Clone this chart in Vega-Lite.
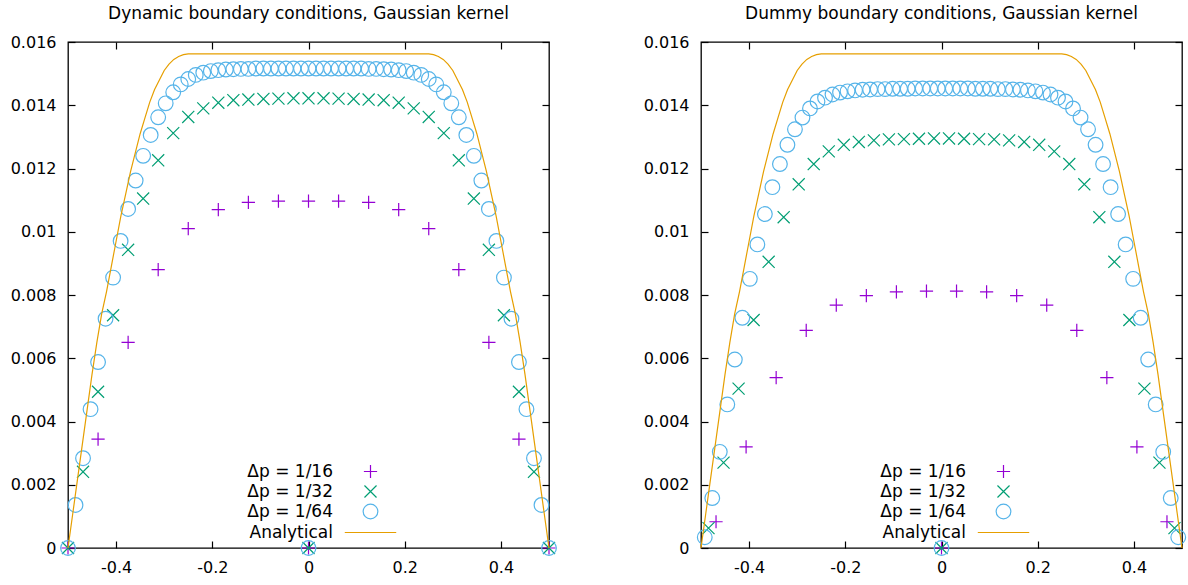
{
"$schema": "https://vega.github.io/schema/vega-lite/v6.json",
"padding": {"left": 9, "top": 4, "right": 2, "bottom": 2},
"spacing": 82,
"config": {
  "font": "DejaVu Sans",
  "view": {"stroke": "black", "strokeWidth": 1.3},
  "axis": {"domain": false, "grid": false, "tickColor": "black", "tickWidth": 1.2, "labelColor": "black", "labelFontSize": 16, "labelFont": "DejaVu Sans", "minExtent": 0},
  "title": {"fontSize": 17, "fontWeight": "normal", "color": "black", "font": "DejaVu Sans"},
  "legend": {"orient": "none", "legendX": 294, "legendY": 421, "title": null, "labelAlign": "right", "labelOffset": -46, "labelFontSize": 17, "labelFont": "DejaVu Sans", "labelColor": "black", "symbolSize": 216, "symbolStrokeWidth": 1.2, "rowPadding": 1, "padding": 0}
},
"datasets": {
  "analytic": [
    {"x": -0.5, "y": 0}, {"x": -0.49, "y": 0.0011}, {"x": -0.48, "y": 0.0022}, {"x": -0.47, "y": 0.0033}, {"x": -0.46, "y": 0.0044}, {"x": -0.45, "y": 0.0055}, {"x": -0.44, "y": 0.0065}, {"x": -0.43, "y": 0.0074}, {"x": -0.42, "y": 0.0081}, {"x": -0.41, "y": 0.0089}, {"x": -0.4, "y": 0.0097}, {"x": -0.39, "y": 0.0105}, {"x": -0.38, "y": 0.0112}, {"x": -0.37, "y": 0.0119}, {"x": -0.36, "y": 0.0125}, {"x": -0.35, "y": 0.0131}, {"x": -0.34, "y": 0.0136}, {"x": -0.33, "y": 0.0141}, {"x": -0.32, "y": 0.0145}, {"x": -0.31, "y": 0.0148}, {"x": -0.3, "y": 0.0151}, {"x": -0.29, "y": 0.0153}, {"x": -0.28, "y": 0.01545}, {"x": -0.27, "y": 0.01554}, {"x": -0.26, "y": 0.0156}, {"x": -0.25, "y": 0.015625},
    {"x": 0.25, "y": 0.015625}, {"x": 0.26, "y": 0.0156}, {"x": 0.27, "y": 0.01554}, {"x": 0.28, "y": 0.01545}, {"x": 0.29, "y": 0.0153}, {"x": 0.3, "y": 0.0151}, {"x": 0.31, "y": 0.0148}, {"x": 0.32, "y": 0.0145}, {"x": 0.33, "y": 0.0141}, {"x": 0.34, "y": 0.0136}, {"x": 0.35, "y": 0.0131}, {"x": 0.36, "y": 0.0125}, {"x": 0.37, "y": 0.0119}, {"x": 0.38, "y": 0.0112}, {"x": 0.39, "y": 0.0105}, {"x": 0.4, "y": 0.0097}, {"x": 0.41, "y": 0.0089}, {"x": 0.42, "y": 0.0081}, {"x": 0.43, "y": 0.0074}, {"x": 0.44, "y": 0.0065}, {"x": 0.45, "y": 0.0055}, {"x": 0.46, "y": 0.0044}, {"x": 0.47, "y": 0.0033}, {"x": 0.48, "y": 0.0022}, {"x": 0.49, "y": 0.0011}, {"x": 0.5, "y": 0}
  ],
  "dyn": [
    {"s": "Δp = 1/16", "x": -0.5, "y": 0}, {"s": "Δp = 1/16", "x": -0.4375, "y": 0.00344}, {"s": "Δp = 1/16", "x": -0.375, "y": 0.0065}, {"s": "Δp = 1/16", "x": -0.3125, "y": 0.0088}, {"s": "Δp = 1/16", "x": -0.25, "y": 0.0101}, {"s": "Δp = 1/16", "x": -0.1875, "y": 0.0107}, {"s": "Δp = 1/16", "x": -0.125, "y": 0.01093}, {"s": "Δp = 1/16", "x": -0.0625, "y": 0.01097}, {"s": "Δp = 1/16", "x": 0, "y": 0.01097}, {"s": "Δp = 1/16", "x": 0.0625, "y": 0.01097}, {"s": "Δp = 1/16", "x": 0.125, "y": 0.01093}, {"s": "Δp = 1/16", "x": 0.1875, "y": 0.0107}, {"s": "Δp = 1/16", "x": 0.25, "y": 0.0101}, {"s": "Δp = 1/16", "x": 0.3125, "y": 0.0088}, {"s": "Δp = 1/16", "x": 0.375, "y": 0.0065}, {"s": "Δp = 1/16", "x": 0.4375, "y": 0.00344}, {"s": "Δp = 1/16", "x": 0.5, "y": 0}, {"s": "Δp = 1/16", "x": 0, "y": 0},
    {"s": "Δp = 1/32", "x": -0.5, "y": 0}, {"s": "Δp = 1/32", "x": -0.46875, "y": 0.00241}, {"s": "Δp = 1/32", "x": -0.4375, "y": 0.00494}, {"s": "Δp = 1/32", "x": -0.40625, "y": 0.00736}, {"s": "Δp = 1/32", "x": -0.375, "y": 0.00943}, {"s": "Δp = 1/32", "x": -0.34375, "y": 0.01105}, {"s": "Δp = 1/32", "x": -0.3125, "y": 0.01226}, {"s": "Δp = 1/32", "x": -0.28125, "y": 0.01312}, {"s": "Δp = 1/32", "x": -0.25, "y": 0.01363}, {"s": "Δp = 1/32", "x": -0.21875, "y": 0.0139}, {"s": "Δp = 1/32", "x": -0.1875, "y": 0.01408}, {"s": "Δp = 1/32", "x": -0.15625, "y": 0.01416}, {"s": "Δp = 1/32", "x": -0.125, "y": 0.01418}, {"s": "Δp = 1/32", "x": -0.09375, "y": 0.0142}, {"s": "Δp = 1/32", "x": -0.0625, "y": 0.01421}, {"s": "Δp = 1/32", "x": -0.03125, "y": 0.01422}, {"s": "Δp = 1/32", "x": 0, "y": 0.01422}, {"s": "Δp = 1/32", "x": 0.03125, "y": 0.01422}, {"s": "Δp = 1/32", "x": 0.0625, "y": 0.01421}, {"s": "Δp = 1/32", "x": 0.09375, "y": 0.0142}, {"s": "Δp = 1/32", "x": 0.125, "y": 0.01418}, {"s": "Δp = 1/32", "x": 0.15625, "y": 0.01416}, {"s": "Δp = 1/32", "x": 0.1875, "y": 0.01408}, {"s": "Δp = 1/32", "x": 0.21875, "y": 0.0139}, {"s": "Δp = 1/32", "x": 0.25, "y": 0.01363}, {"s": "Δp = 1/32", "x": 0.28125, "y": 0.01312}, {"s": "Δp = 1/32", "x": 0.3125, "y": 0.01226}, {"s": "Δp = 1/32", "x": 0.34375, "y": 0.01105}, {"s": "Δp = 1/32", "x": 0.375, "y": 0.00943}, {"s": "Δp = 1/32", "x": 0.40625, "y": 0.00736}, {"s": "Δp = 1/32", "x": 0.4375, "y": 0.00494}, {"s": "Δp = 1/32", "x": 0.46875, "y": 0.00241}, {"s": "Δp = 1/32", "x": 0.5, "y": 0}, {"s": "Δp = 1/32", "x": 0, "y": 0},
    {"s": "Δp = 1/64", "x": -0.5, "y": 0}, {"s": "Δp = 1/64", "x": -0.484375, "y": 0.00136}, {"s": "Δp = 1/64", "x": -0.46875, "y": 0.00284}, {"s": "Δp = 1/64", "x": -0.453125, "y": 0.00439}, {"s": "Δp = 1/64", "x": -0.4375, "y": 0.00588}, {"s": "Δp = 1/64", "x": -0.421875, "y": 0.00725}, {"s": "Δp = 1/64", "x": -0.40625, "y": 0.00855}, {"s": "Δp = 1/64", "x": -0.390625, "y": 0.00971}, {"s": "Δp = 1/64", "x": -0.375, "y": 0.01072}, {"s": "Δp = 1/64", "x": -0.359375, "y": 0.01162}, {"s": "Δp = 1/64", "x": -0.34375, "y": 0.0124}, {"s": "Δp = 1/64", "x": -0.328125, "y": 0.01306}, {"s": "Δp = 1/64", "x": -0.3125, "y": 0.01362}, {"s": "Δp = 1/64", "x": -0.296875, "y": 0.01406}, {"s": "Δp = 1/64", "x": -0.28125, "y": 0.01441}, {"s": "Δp = 1/64", "x": -0.265625, "y": 0.01466}, {"s": "Δp = 1/64", "x": -0.25, "y": 0.01483}, {"s": "Δp = 1/64", "x": -0.234375, "y": 0.01496}, {"s": "Δp = 1/64", "x": -0.21875, "y": 0.01503}, {"s": "Δp = 1/64", "x": -0.203125, "y": 0.01508}, {"s": "Δp = 1/64", "x": -0.1875, "y": 0.01511}, {"s": "Δp = 1/64", "x": -0.171875, "y": 0.01513}, {"s": "Δp = 1/64", "x": -0.15625, "y": 0.01514}, {"s": "Δp = 1/64", "x": -0.140625, "y": 0.01515}, {"s": "Δp = 1/64", "x": -0.125, "y": 0.01515}, {"s": "Δp = 1/64", "x": -0.109375, "y": 0.01516}, {"s": "Δp = 1/64", "x": -0.09375, "y": 0.01516}, {"s": "Δp = 1/64", "x": -0.078125, "y": 0.01516}, {"s": "Δp = 1/64", "x": -0.0625, "y": 0.01516}, {"s": "Δp = 1/64", "x": -0.046875, "y": 0.01516}, {"s": "Δp = 1/64", "x": -0.03125, "y": 0.01516}, {"s": "Δp = 1/64", "x": -0.015625, "y": 0.01516}, {"s": "Δp = 1/64", "x": 0, "y": 0.01516}, {"s": "Δp = 1/64", "x": 0.015625, "y": 0.01516}, {"s": "Δp = 1/64", "x": 0.03125, "y": 0.01516}, {"s": "Δp = 1/64", "x": 0.046875, "y": 0.01516}, {"s": "Δp = 1/64", "x": 0.0625, "y": 0.01516}, {"s": "Δp = 1/64", "x": 0.078125, "y": 0.01516}, {"s": "Δp = 1/64", "x": 0.09375, "y": 0.01516}, {"s": "Δp = 1/64", "x": 0.109375, "y": 0.01516}, {"s": "Δp = 1/64", "x": 0.125, "y": 0.01515}, {"s": "Δp = 1/64", "x": 0.140625, "y": 0.01515}, {"s": "Δp = 1/64", "x": 0.15625, "y": 0.01514}, {"s": "Δp = 1/64", "x": 0.171875, "y": 0.01513}, {"s": "Δp = 1/64", "x": 0.1875, "y": 0.01511}, {"s": "Δp = 1/64", "x": 0.203125, "y": 0.01508}, {"s": "Δp = 1/64", "x": 0.21875, "y": 0.01503}, {"s": "Δp = 1/64", "x": 0.234375, "y": 0.01496}, {"s": "Δp = 1/64", "x": 0.25, "y": 0.01483}, {"s": "Δp = 1/64", "x": 0.265625, "y": 0.01466}, {"s": "Δp = 1/64", "x": 0.28125, "y": 0.01441}, {"s": "Δp = 1/64", "x": 0.296875, "y": 0.01406}, {"s": "Δp = 1/64", "x": 0.3125, "y": 0.01362}, {"s": "Δp = 1/64", "x": 0.328125, "y": 0.01306}, {"s": "Δp = 1/64", "x": 0.34375, "y": 0.0124}, {"s": "Δp = 1/64", "x": 0.359375, "y": 0.01162}, {"s": "Δp = 1/64", "x": 0.375, "y": 0.01072}, {"s": "Δp = 1/64", "x": 0.390625, "y": 0.00971}, {"s": "Δp = 1/64", "x": 0.40625, "y": 0.00855}, {"s": "Δp = 1/64", "x": 0.421875, "y": 0.00725}, {"s": "Δp = 1/64", "x": 0.4375, "y": 0.00588}, {"s": "Δp = 1/64", "x": 0.453125, "y": 0.00439}, {"s": "Δp = 1/64", "x": 0.46875, "y": 0.00284}, {"s": "Δp = 1/64", "x": 0.484375, "y": 0.00136}, {"s": "Δp = 1/64", "x": 0.5, "y": 0}, {"s": "Δp = 1/64", "x": 0, "y": 0}
  ],
  "dummy": [
    {"s": "Δp = 1/16", "x": -0.46875, "y": 0.00083}, {"s": "Δp = 1/16", "x": -0.40625, "y": 0.0032}, {"s": "Δp = 1/16", "x": -0.34375, "y": 0.00539}, {"s": "Δp = 1/16", "x": -0.28125, "y": 0.00688}, {"s": "Δp = 1/16", "x": -0.21875, "y": 0.00768}, {"s": "Δp = 1/16", "x": -0.15625, "y": 0.00798}, {"s": "Δp = 1/16", "x": -0.09375, "y": 0.0081}, {"s": "Δp = 1/16", "x": -0.03125, "y": 0.00812}, {"s": "Δp = 1/16", "x": 0.03125, "y": 0.00812}, {"s": "Δp = 1/16", "x": 0.09375, "y": 0.0081}, {"s": "Δp = 1/16", "x": 0.15625, "y": 0.00798}, {"s": "Δp = 1/16", "x": 0.21875, "y": 0.00768}, {"s": "Δp = 1/16", "x": 0.28125, "y": 0.00688}, {"s": "Δp = 1/16", "x": 0.34375, "y": 0.00539}, {"s": "Δp = 1/16", "x": 0.40625, "y": 0.0032}, {"s": "Δp = 1/16", "x": 0.46875, "y": 0.00083}, {"s": "Δp = 1/16", "x": 0, "y": 0},
    {"s": "Δp = 1/32", "x": -0.484375, "y": 0.00063}, {"s": "Δp = 1/32", "x": -0.453125, "y": 0.0027}, {"s": "Δp = 1/32", "x": -0.421875, "y": 0.00504}, {"s": "Δp = 1/32", "x": -0.390625, "y": 0.00721}, {"s": "Δp = 1/32", "x": -0.359375, "y": 0.00905}, {"s": "Δp = 1/32", "x": -0.328125, "y": 0.01046}, {"s": "Δp = 1/32", "x": -0.296875, "y": 0.0115}, {"s": "Δp = 1/32", "x": -0.265625, "y": 0.01214}, {"s": "Δp = 1/32", "x": -0.234375, "y": 0.01254}, {"s": "Δp = 1/32", "x": -0.203125, "y": 0.01275}, {"s": "Δp = 1/32", "x": -0.171875, "y": 0.01284}, {"s": "Δp = 1/32", "x": -0.140625, "y": 0.01289}, {"s": "Δp = 1/32", "x": -0.109375, "y": 0.01292}, {"s": "Δp = 1/32", "x": -0.078125, "y": 0.01293}, {"s": "Δp = 1/32", "x": -0.046875, "y": 0.01294}, {"s": "Δp = 1/32", "x": -0.015625, "y": 0.01295}, {"s": "Δp = 1/32", "x": 0.015625, "y": 0.01295}, {"s": "Δp = 1/32", "x": 0.046875, "y": 0.01294}, {"s": "Δp = 1/32", "x": 0.078125, "y": 0.01293}, {"s": "Δp = 1/32", "x": 0.109375, "y": 0.01292}, {"s": "Δp = 1/32", "x": 0.140625, "y": 0.01289}, {"s": "Δp = 1/32", "x": 0.171875, "y": 0.01284}, {"s": "Δp = 1/32", "x": 0.203125, "y": 0.01275}, {"s": "Δp = 1/32", "x": 0.234375, "y": 0.01254}, {"s": "Δp = 1/32", "x": 0.265625, "y": 0.01214}, {"s": "Δp = 1/32", "x": 0.296875, "y": 0.0115}, {"s": "Δp = 1/32", "x": 0.328125, "y": 0.01046}, {"s": "Δp = 1/32", "x": 0.359375, "y": 0.00905}, {"s": "Δp = 1/32", "x": 0.390625, "y": 0.00721}, {"s": "Δp = 1/32", "x": 0.421875, "y": 0.00504}, {"s": "Δp = 1/32", "x": 0.453125, "y": 0.0027}, {"s": "Δp = 1/32", "x": 0.484375, "y": 0.00063}, {"s": "Δp = 1/32", "x": 0, "y": 0},
    {"s": "Δp = 1/64", "x": -0.4921875, "y": 0.00034}, {"s": "Δp = 1/64", "x": -0.4765625, "y": 0.00158}, {"s": "Δp = 1/64", "x": -0.4609375, "y": 0.00304}, {"s": "Δp = 1/64", "x": -0.4453125, "y": 0.00454}, {"s": "Δp = 1/64", "x": -0.4296875, "y": 0.00596}, {"s": "Δp = 1/64", "x": -0.4140625, "y": 0.00728}, {"s": "Δp = 1/64", "x": -0.3984375, "y": 0.00851}, {"s": "Δp = 1/64", "x": -0.3828125, "y": 0.0096}, {"s": "Δp = 1/64", "x": -0.3671875, "y": 0.01056}, {"s": "Δp = 1/64", "x": -0.3515625, "y": 0.01141}, {"s": "Δp = 1/64", "x": -0.3359375, "y": 0.01214}, {"s": "Δp = 1/64", "x": -0.3203125, "y": 0.01275}, {"s": "Δp = 1/64", "x": -0.3046875, "y": 0.01324}, {"s": "Δp = 1/64", "x": -0.2890625, "y": 0.01361}, {"s": "Δp = 1/64", "x": -0.2734375, "y": 0.0139}, {"s": "Δp = 1/64", "x": -0.2578125, "y": 0.01412}, {"s": "Δp = 1/64", "x": -0.2421875, "y": 0.01424}, {"s": "Δp = 1/64", "x": -0.2265625, "y": 0.01434}, {"s": "Δp = 1/64", "x": -0.2109375, "y": 0.0144}, {"s": "Δp = 1/64", "x": -0.1953125, "y": 0.01444}, {"s": "Δp = 1/64", "x": -0.1796875, "y": 0.01447}, {"s": "Δp = 1/64", "x": -0.1640625, "y": 0.01449}, {"s": "Δp = 1/64", "x": -0.1484375, "y": 0.0145}, {"s": "Δp = 1/64", "x": -0.1328125, "y": 0.01451}, {"s": "Δp = 1/64", "x": -0.1171875, "y": 0.01451}, {"s": "Δp = 1/64", "x": -0.1015625, "y": 0.01452}, {"s": "Δp = 1/64", "x": -0.0859375, "y": 0.01452}, {"s": "Δp = 1/64", "x": -0.0703125, "y": 0.01452}, {"s": "Δp = 1/64", "x": -0.0546875, "y": 0.01453}, {"s": "Δp = 1/64", "x": -0.0390625, "y": 0.01453}, {"s": "Δp = 1/64", "x": -0.0234375, "y": 0.01453}, {"s": "Δp = 1/64", "x": -0.0078125, "y": 0.01453},
    {"s": "Δp = 1/64", "x": 0.0078125, "y": 0.01453}, {"s": "Δp = 1/64", "x": 0.0234375, "y": 0.01453}, {"s": "Δp = 1/64", "x": 0.0390625, "y": 0.01453}, {"s": "Δp = 1/64", "x": 0.0546875, "y": 0.01453}, {"s": "Δp = 1/64", "x": 0.0703125, "y": 0.01452}, {"s": "Δp = 1/64", "x": 0.0859375, "y": 0.01452}, {"s": "Δp = 1/64", "x": 0.1015625, "y": 0.01452}, {"s": "Δp = 1/64", "x": 0.1171875, "y": 0.01451}, {"s": "Δp = 1/64", "x": 0.1328125, "y": 0.01451}, {"s": "Δp = 1/64", "x": 0.1484375, "y": 0.0145}, {"s": "Δp = 1/64", "x": 0.1640625, "y": 0.01449}, {"s": "Δp = 1/64", "x": 0.1796875, "y": 0.01447}, {"s": "Δp = 1/64", "x": 0.1953125, "y": 0.01444}, {"s": "Δp = 1/64", "x": 0.2109375, "y": 0.0144}, {"s": "Δp = 1/64", "x": 0.2265625, "y": 0.01434}, {"s": "Δp = 1/64", "x": 0.2421875, "y": 0.01424}, {"s": "Δp = 1/64", "x": 0.2578125, "y": 0.01412}, {"s": "Δp = 1/64", "x": 0.2734375, "y": 0.0139}, {"s": "Δp = 1/64", "x": 0.2890625, "y": 0.01361}, {"s": "Δp = 1/64", "x": 0.3046875, "y": 0.01324}, {"s": "Δp = 1/64", "x": 0.3203125, "y": 0.01275}, {"s": "Δp = 1/64", "x": 0.3359375, "y": 0.01214}, {"s": "Δp = 1/64", "x": 0.3515625, "y": 0.01141}, {"s": "Δp = 1/64", "x": 0.3671875, "y": 0.01056}, {"s": "Δp = 1/64", "x": 0.3828125, "y": 0.0096}, {"s": "Δp = 1/64", "x": 0.3984375, "y": 0.00851}, {"s": "Δp = 1/64", "x": 0.4140625, "y": 0.00728}, {"s": "Δp = 1/64", "x": 0.4296875, "y": 0.00596}, {"s": "Δp = 1/64", "x": 0.4453125, "y": 0.00454}, {"s": "Δp = 1/64", "x": 0.4609375, "y": 0.00304}, {"s": "Δp = 1/64", "x": 0.4765625, "y": 0.00158}, {"s": "Δp = 1/64", "x": 0.4921875, "y": 0.00034}, {"s": "Δp = 1/64", "x": 0, "y": 0}
  ]
},
"resolve": {"scale": {"color": "independent", "shape": "independent"}},
"hconcat": [
  {
    "width": 481, "height": 506,
    "title": {"text": "Dynamic boundary conditions, Gaussian kernel", "frame": "group", "anchor": "middle", "baseline": "alphabetic", "offset": -2},
    "layer": [
      {
        "data": {"name": "dyn"},
        "mark": {"type": "point", "filled": false, "size": 216, "strokeWidth": 1.2, "opacity": 1},
        "encoding": {
          "x": {"field": "x", "type": "quantitative", "scale": {"domain": [-0.5, 0.5], "nice": false, "zero": false}, "axis": {"orient": "top", "values": [-0.4, -0.2, 0, 0.2, 0.4], "tickSize": -7, "labels": false, "minExtent": 0, "maxExtent": 0, "title": null}},
          "y": {"field": "y", "type": "quantitative", "scale": {"domain": [0, 0.016], "nice": false}, "axis": {"orient": "right", "values": [0, 0.002, 0.004, 0.006, 0.008, 0.01, 0.012, 0.014, 0.016], "tickSize": -7, "labels": false, "minExtent": 0, "maxExtent": 0, "title": null}},
          "color": {"field": "s", "type": "nominal", "scale": {"domain": ["Δp = 1/16", "Δp = 1/32", "Δp = 1/64", "Analytical"], "range": ["#9400d3", "#009e73", "#56b4e9", "#e69f00"]}, "legend": {"orient": "none", "legendX": 294, "legendY": 421}},
          "shape": {"field": "s", "type": "nominal", "scale": {"domain": ["Δp = 1/16", "Δp = 1/32", "Δp = 1/64", "Analytical"], "range": ["M-0.9,0L0.9,0M0,-0.9L0,0.9", "M-0.82,-0.82L0.82,0.82M-0.82,0.82L0.82,-0.82", "circle", "M-3.5,0L3.5,0"]}, "legend": {"orient": "none", "legendX": 294, "legendY": 421}}
        }
      },
      {
        "data": {"name": "analytic"},
        "mark": {"type": "line", "color": "#e69f00", "strokeWidth": 1.2},
        "encoding": {
          "x": {"field": "x", "type": "quantitative", "scale": {"domain": [-0.5, 0.5], "nice": false, "zero": false}, "axis": {"orient": "bottom", "values": [-0.4, -0.2, 0, 0.2, 0.4], "tickSize": -7, "labelPadding": 18, "labelExpr": "datum.value + ''", "title": null}},
          "y": {"field": "y", "type": "quantitative", "scale": {"domain": [0, 0.016], "nice": false}, "axis": {"orient": "left", "values": [0, 0.002, 0.004, 0.006, 0.008, 0.01, 0.012, 0.014, 0.016], "tickSize": -7, "labelPadding": 19, "labelExpr": "datum.value + ''", "title": null}}
        }
      }
    ],
    "resolve": {"axis": {"x": "independent", "y": "independent"}}
  },
  {
    "width": 481, "height": 506,
    "title": {"text": "Dummy boundary conditions, Gaussian kernel", "frame": "group", "anchor": "middle", "baseline": "alphabetic", "offset": -2},
    "layer": [
      {
        "data": {"name": "dummy"},
        "mark": {"type": "point", "filled": false, "size": 216, "strokeWidth": 1.2, "opacity": 1},
        "encoding": {
          "x": {"field": "x", "type": "quantitative", "scale": {"domain": [-0.5, 0.5], "nice": false, "zero": false}, "axis": {"orient": "top", "values": [-0.4, -0.2, 0, 0.2, 0.4], "tickSize": -7, "labels": false, "minExtent": 0, "maxExtent": 0, "title": null}},
          "y": {"field": "y", "type": "quantitative", "scale": {"domain": [0, 0.016], "nice": false}, "axis": {"orient": "right", "values": [0, 0.002, 0.004, 0.006, 0.008, 0.01, 0.012, 0.014, 0.016], "tickSize": -7, "labels": false, "minExtent": 0, "maxExtent": 0, "title": null}},
          "color": {"field": "s", "type": "nominal", "scale": {"domain": ["Δp = 1/16", "Δp = 1/32", "Δp = 1/64", "Analytical"], "range": ["#9400d3", "#009e73", "#56b4e9", "#e69f00"]}, "legend": {"orient": "none", "legendX": 294, "legendY": 421}},
          "shape": {"field": "s", "type": "nominal", "scale": {"domain": ["Δp = 1/16", "Δp = 1/32", "Δp = 1/64", "Analytical"], "range": ["M-0.9,0L0.9,0M0,-0.9L0,0.9", "M-0.82,-0.82L0.82,0.82M-0.82,0.82L0.82,-0.82", "circle", "M-3.5,0L3.5,0"]}, "legend": {"orient": "none", "legendX": 294, "legendY": 421}}
        }
      },
      {
        "data": {"name": "analytic"},
        "mark": {"type": "line", "color": "#e69f00", "strokeWidth": 1.2},
        "encoding": {
          "x": {"field": "x", "type": "quantitative", "scale": {"domain": [-0.5, 0.5], "nice": false, "zero": false}, "axis": {"orient": "bottom", "values": [-0.4, -0.2, 0, 0.2, 0.4], "tickSize": -7, "labelPadding": 18, "labelExpr": "datum.value + ''", "title": null}},
          "y": {"field": "y", "type": "quantitative", "scale": {"domain": [0, 0.016], "nice": false}, "axis": {"orient": "left", "values": [0, 0.002, 0.004, 0.006, 0.008, 0.01, 0.012, 0.014, 0.016], "tickSize": -7, "labelPadding": 19, "labelExpr": "datum.value + ''", "title": null}}
        }
      }
    ],
    "resolve": {"axis": {"x": "independent", "y": "independent"}}
  }
]
}
